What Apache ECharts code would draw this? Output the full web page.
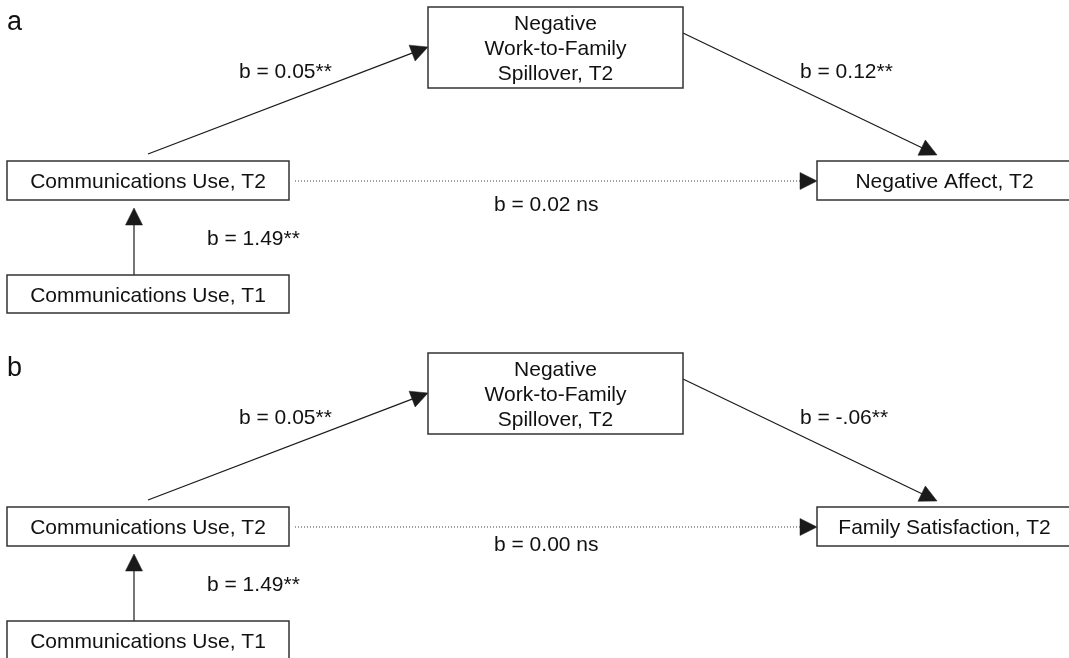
<!DOCTYPE html>
<html><head><meta charset="utf-8">
<script src="https://cdn.jsdelivr.net/npm/echarts@6/dist/echarts.min.js"></script>
<style>html,body{margin:0;padding:0;background:#fff;}#chart{width:1069px;height:658px;}</style>
</head><body><div id="chart"></div>
<script>
// ---------------- data ----------------
const panelLetters = ['a', 'b'];
const predictorT1 = 'Communications Use, T1';
const predictorT2 = 'Communications Use, T2';
const mediator = 'Negative\nWork-to-Family\nSpillover, T2';
const outcomes = ['Negative Affect, T2', 'Family Satisfaction, T2'];
const coefT1toT2 = ['b = 1.49**', 'b = 1.49**'];
const coefT2toMediator = ['b = 0.05**', 'b = 0.05**'];
const coefMediatorToOutcome = ['b = 0.12**', 'b = -.06**'];
const coefDirect = ['b = 0.02 ns', 'b = 0.00 ns'];

// ---------------- layout (diagram space 1069 x 658, y downward) ----------------
const panelOffsetY = [0, 346];
const letterPos = [7, 23];
const boxLayout = { t1: [7, 275, 289, 313], t2: [7, 161, 289, 200], med: [428, 7, 683, 88], out: [817, 161, 1072, 200] };
const edgeLayout = {
  t1t2: [134, 275, 134, 208],
  t2med: [148, 154, 428, 47],
  medout: [683, 33, 937, 155],
  direct: [295, 181, 817, 181]
};
const labelLayout = { t1t2: [207, 239], t2med: [239, 72], medout: [800, 72], direct: [[494, 205], [494, 199]] };

const FONT = '21px "Liberation Sans", Arial, sans-serif';

// build items
const boxItems = [], boxTexts = [];
const edgeItems = [], edgeDotted = [];
const textItems = [], textStrings = [], textFonts = [];
panelLetters.forEach((letter, p) => {
  const off = panelOffsetY[p];
  const addBox = (b, t) => { boxItems.push([b[0], b[1] + off, b[2], b[3] + off]); boxTexts.push(t); };
  addBox(boxLayout.t1, predictorT1);
  addBox(boxLayout.t2, predictorT2);
  addBox(boxLayout.med, mediator);
  addBox(boxLayout.out, outcomes[p]);
  const addEdge = (e, dotted) => { edgeItems.push([e[0], e[1] + off, e[2], e[3] + off]); edgeDotted.push(dotted); };
  addEdge(edgeLayout.t1t2, false);
  addEdge(edgeLayout.t2med, false);
  addEdge(edgeLayout.medout, false);
  addEdge(edgeLayout.direct, true);
  const addText = (pos, s, f) => { textItems.push([pos[0], pos[1] + off]); textStrings.push(s); textFonts.push(f); };
  addText(letterPos, letter, '27px "Liberation Sans", Arial, sans-serif');
  addText(labelLayout.t1t2, coefT1toT2[p], FONT);
  addText(labelLayout.t2med, coefT2toMediator[p], FONT);
  addText(labelLayout.medout, coefMediatorToOutcome[p], FONT);
  addText(labelLayout.direct[p], coefDirect[p], FONT);
});

const chart = echarts.init(document.getElementById('chart'), null, { renderer: 'canvas' });
chart.setOption({
  animation: false,
  backgroundColor: '#fff',
  grid: { left: 0, right: 0, top: 0, bottom: 0 },
  xAxis: { type: 'value', min: 0, max: 1069, show: false },
  yAxis: { type: 'value', min: 0, max: 658, inverse: true, show: false },
  series: [
    {
      type: 'custom', name: 'edges', coordinateSystem: 'cartesian2d', silent: true,
      data: edgeItems,
      renderItem: function (params, api) {
        const a = api.coord([api.value(0), api.value(1)]);
        const b = api.coord([api.value(2), api.value(3)]);
        const dx = b[0] - a[0], dy = b[1] - a[1];
        const len = Math.sqrt(dx * dx + dy * dy);
        const ux = dx / len, uy = dy / len;
        const L = 17, W = 17;
        const bx = b[0] - ux * L, by = b[1] - uy * L;
        const nx = -uy, ny = ux;
        const dotted = edgeDotted[params.dataIndex];
        return {
          type: 'group',
          children: [
            { type: 'line', shape: { x1: a[0], y1: a[1], x2: bx + ux * 2, y2: by + uy * 2 },
              style: dotted ? { stroke: '#444', lineWidth: 1.2, lineDash: [1, 2] } : { stroke: '#1a1a1a', lineWidth: 1.2 } },
            { type: 'polygon', shape: { points: [[b[0], b[1]], [bx + nx * W / 2, by + ny * W / 2], [bx - nx * W / 2, by - ny * W / 2]] },
              style: { fill: '#1a1a1a', stroke: '#1a1a1a', lineWidth: 0.5 } }
          ]
        };
      }
    },
    {
      type: 'custom', name: 'boxes', coordinateSystem: 'cartesian2d', silent: true,
      data: boxItems,
      renderItem: function (params, api) {
        const p1 = api.coord([api.value(0), api.value(1)]);
        const p2 = api.coord([api.value(2), api.value(3)]);
        return {
          type: 'group',
          children: [
            { type: 'rect', shape: { x: p1[0], y: p1[1], width: p2[0] - p1[0], height: p2[1] - p1[1] },
              style: { fill: '#fff', stroke: '#333', lineWidth: 1.5 } },
            { type: 'text', style: { x: (p1[0] + p2[0]) / 2, y: (p1[1] + p2[1]) / 2 + 2, text: boxTexts[params.dataIndex],
              align: 'center', verticalAlign: 'middle', font: FONT, lineHeight: 25, fill: '#111' } }
          ]
        };
      }
    },
    {
      type: 'custom', name: 'labels', coordinateSystem: 'cartesian2d', silent: true,
      data: textItems,
      renderItem: function (params, api) {
        const p = api.coord([api.value(0), api.value(1)]);
        return { type: 'text', style: { x: p[0], y: p[1], text: textStrings[params.dataIndex],
          align: 'left', verticalAlign: 'middle', font: textFonts[params.dataIndex], fill: '#111' } };
      }
    }
  ]
});
</script>
</body></html>
